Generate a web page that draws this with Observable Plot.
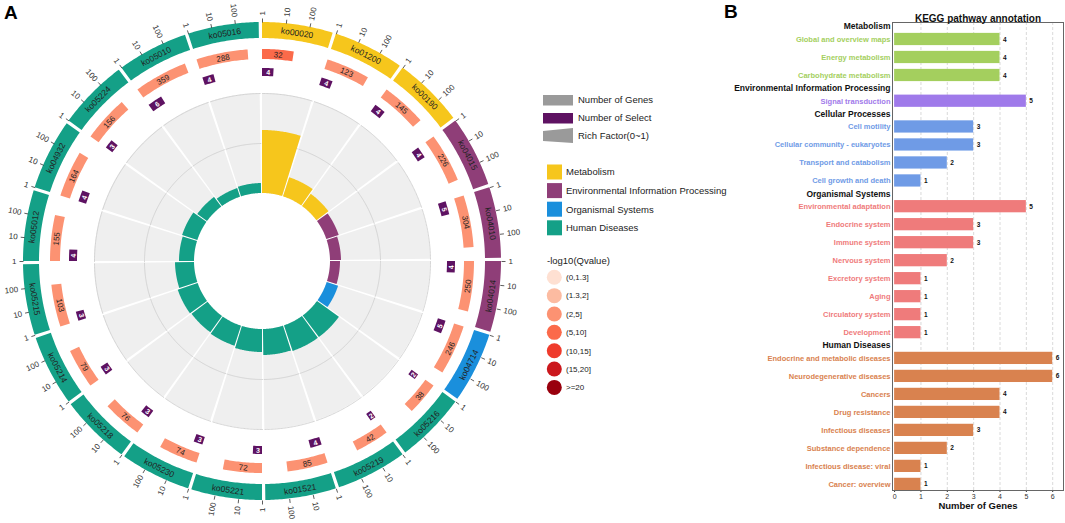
<!DOCTYPE html>
<html>
<head>
<meta charset="utf-8">
<script src="https://cdn.jsdelivr.net/npm/d3@7"></script>
<script src="https://cdn.jsdelivr.net/npm/@observablehq/plot@0.6"></script>
<style>
html,body{margin:0;padding:0;background:#fff;}
body{width:1065px;height:523px;position:relative;overflow:hidden;font-family:"Liberation Sans",Arial,Helvetica,sans-serif;}
#panelA{position:absolute;left:0;top:0;}
#panelB{position:absolute;left:730px;top:0;}
#legend{position:absolute;left:535px;top:85px;}
.tag{position:absolute;font-weight:bold;font-size:19px;line-height:1;color:#000;}
</style>
</head>
<body>
<div id="panelA"></div>
<div id="panelB"></div>
<div id="legend"></div>
<div class="tag" style="left:4px;top:3px">A</div>
<div class="tag" style="left:724px;top:2px">B</div>
<script>
// ---------------- Panel A data ----------------
const pathways = ["ko00020","ko01200","ko00190","ko04015","ko04010","ko04014","ko04714","ko05216","ko05219","ko01521","ko05221","ko05230","ko05218","ko05214","ko05215","ko05012","ko04932","ko05224","ko05010","ko05016"];
const pathwayClass = ["Metabolism","Metabolism","Metabolism",
  "Environmental Information Processing","Environmental Information Processing","Environmental Information Processing",
  "Organismal Systems",
  "Human Diseases","Human Diseases","Human Diseases","Human Diseases","Human Diseases","Human Diseases","Human Diseases",
  "Human Diseases","Human Diseases","Human Diseases","Human Diseases","Human Diseases","Human Diseases"];
const geneCounts = [32,123,145,226,304,250,246,38,42,85,72,74,76,79,103,155,164,156,359,288];
const selectCounts = [4,4,4,4,5,4,5,2,2,4,3,3,3,3,3,4,4,3,6,4];
const richFactor = [0.63,0.20,0.15,0.13,0.11,0.10,0.12,0.27,0.27,0.26,0.23,0.21,0.20,0.21,0.19,0.15,0.16,0.12,0.09,0.10];
const qClass = ["(5,10]","(2,5]","(2,5]","(2,5]","(2,5]","(2,5]","(2,5]","(2,5]","(2,5]","(2,5]","(2,5]","(2,5]","(2,5]","(2,5]","(2,5]","(2,5]","(2,5]","(2,5]","(2,5]","(2,5]"];
const classNames = ["Metabolism","Environmental Information Processing","Organismal Systems","Human Diseases"];
const classColors = ["#f6c61c","#8f3e78","#1a8fdc","#14a087"];
const qBins = ["(0,1.3]","(1.3,2]","(2,5]","(5,10]","(10,15]","(15,20]",">=20"];
const qColors = ["#fee0d2","#fcbba1","#fc9272","#fb6a4a","#ef3b2c","#cb181d","#99000d"];
const axisTicks = [1,10,100];
const legendTracks = ["Number of Genes","Number of Select","Rich Factor(0~1)"];

// ---------------- Panel B data ----------------
const annoGroups = ["Metabolism","Environmental Information Processing","Cellular Processes","Organismal Systems","Human Diseases"];
const annoGroupColors = ["#a4cf5e","#9f7aea","#6f9be6","#ef7b7b","#d9824f"];
const annoTerms = ["Global and overview maps","Energy metabolism","Carbohydrate metabolism",
  "Signal transduction",
  "Cell motility","Cellular community - eukaryotes","Transport and catabolism","Cell growth and death",
  "Environmental adaptation","Endocrine system","Immune system","Nervous system","Excretory system","Aging","Circulatory system","Development",
  "Endocrine and metabolic diseases","Neurodegenerative diseases","Cancers","Drug resistance","Infectious diseases","Substance dependence","Infectious disease: viral","Cancer: overview"];
const annoTermGroup = ["Metabolism","Metabolism","Metabolism",
  "Environmental Information Processing",
  "Cellular Processes","Cellular Processes","Cellular Processes","Cellular Processes",
  "Organismal Systems","Organismal Systems","Organismal Systems","Organismal Systems","Organismal Systems","Organismal Systems","Organismal Systems","Organismal Systems",
  "Human Diseases","Human Diseases","Human Diseases","Human Diseases","Human Diseases","Human Diseases","Human Diseases","Human Diseases"];
const annoCounts = [4,4,4,5,3,3,2,1,5,3,3,2,1,1,1,1,6,6,4,4,3,2,1,1];
const annoTitle = "KEGG pathway annotation";
const annoXLabel = "Number of Genes";

const FONT = "Liberation Sans, Arial, Helvetica, sans-serif";

// ---------------- Panel A: circular plot ----------------
const W = 530, H = 523, CX = 262, CY = 261;
const GAP = 0.8, STEP = 360 / pathways.length, SPAN = STEP - GAP;
const sectorScale = d3.scaleLog().domain([1, 1000]).range([0, SPAN]);
const rfScale = d3.scaleLinear().domain([0, 1]).range([68, 168]);
const R = {out0: 223, out1: 239, gene0: 202, gene1: 212, sel0: 185, sel1: 193, rf0: 68, rf1: 168, tick1: 243, tickLab: 246};
const rad = a => a * Math.PI / 180;
const px = (r, a) => r * Math.sin(rad(a));
const py = (r, a) => -r * Math.cos(rad(a));
const classColor = c => classColors[classNames.indexOf(c)];
const qColor = q => qColors[qBins.indexOf(q)];
const tangentRot = a => (a > 90 && a < 270) ? a - 180 : a;

const rows = pathways.map((id, i) => ({
  id, i, cls: pathwayClass[i], genes: geneCounts[i], sel: selectCounts[i], rf: richFactor[i], q: qClass[i],
  a0: STEP * i, a1: STEP * i + SPAN
}));
const ang = (d, v) => d.a0 + sectorScale(v);

function wedge(key, a0, a1, r0, r1, fill) {
  const n = Math.max(2, Math.ceil((a1 - a0) / 0.5));
  return d3.range(n + 1).map(k => {
    const a = a0 + (a1 - a0) * k / n;
    return {key, fill, x1: px(r0, a), y1: py(r0, a), x2: px(r1, a), y2: py(r1, a)};
  });
}
function arcLine(key, a0, a1, r) {
  const n = Math.max(2, Math.ceil((a1 - a0) / 0.5));
  return d3.range(n + 1).map(k => {
    const a = a0 + (a1 - a0) * k / n;
    return {key, x: px(r, a), y: py(r, a)};
  });
}
const areaOpts = {x1: "x1", y1: "y1", x2: "x2", y2: "y2", z: "key", fill: "fill", curve: "linear"};

const bgData = rows.flatMap(d => wedge(d.id + "bg", d.a0, d.a1, R.rf0, R.rf1, "#efefef"));
const gridData = rows.flatMap(d => [0.5, 1].flatMap(t => arcLine(d.id + "g" + t, d.a0, d.a1, rfScale(t))));
const rfData = rows.flatMap(d => wedge(d.id + "rf", d.a0, d.a1, R.rf0, rfScale(d.rf), classColor(d.cls)));
const selData = rows.flatMap(d => wedge(d.id + "sel", d.a0, ang(d, d.sel), R.sel0, R.sel1, "#5e1262"));
const geneData = rows.flatMap(d => wedge(d.id + "gene", d.a0, ang(d, d.genes), R.gene0, R.gene1, qColor(d.q)));
const ringData = rows.flatMap(d => wedge(d.id + "ring", d.a0, d.a1, R.out0, R.out1, classColor(d.cls)));
const tickData = rows.flatMap(d => axisTicks.map(v => ({v, a: ang(d, v)})));

const mid = d => (d.a0 + d.a1) / 2;
const geneMid = d => (d.a0 + ang(d, d.genes)) / 2;
const selMid = d => (d.a0 + ang(d, d.sel)) / 2;

const plotA = Plot.plot({
  width: W, height: H, margin: 0,
  x: {domain: [-CX, W - CX], range: [0, W], axis: null},
  y: {domain: [-CY, H - CY], range: [0, H], axis: null},
  color: {type: "identity"},
  style: {fontFamily: FONT, background: "transparent", overflow: "visible"},
  marks: [
    Plot.area(bgData, areaOpts),
    Plot.line(gridData, {x: "x", y: "y", z: "key", stroke: "#d0d0d0", strokeWidth: 0.9}),
    Plot.area(rfData, areaOpts),
    Plot.area(selData, areaOpts),
    Plot.area(geneData, areaOpts),
    Plot.area(ringData, areaOpts),
    Plot.link(tickData, {x1: d => px(R.out1, d.a), y1: d => py(R.out1, d.a), x2: d => px(R.tick1, d.a), y2: d => py(R.tick1, d.a), stroke: "#333", strokeWidth: 0.8}),
    Plot.text(tickData.filter(d => d.a < 180), {x: d => px(R.tickLab, d.a), y: d => py(R.tickLab, d.a), text: d => String(d.v), rotate: d => d.a - 90, textAnchor: "start", fontSize: 8, fill: "#333"}),
    Plot.text(tickData.filter(d => d.a >= 180), {x: d => px(R.tickLab, d.a), y: d => py(R.tickLab, d.a), text: d => String(d.v), rotate: d => d.a - 270, textAnchor: "end", fontSize: 8, fill: "#333"}),
    Plot.text(rows, {x: d => px((R.out0 + R.out1) / 2, mid(d)), y: d => py((R.out0 + R.out1) / 2, mid(d)), text: "id", rotate: d => tangentRot(mid(d)), fontSize: 8.5, fill: "#222"}),
    Plot.text(rows, {x: d => px((R.gene0 + R.gene1) / 2, geneMid(d)), y: d => py((R.gene0 + R.gene1) / 2, geneMid(d)), text: d => String(d.genes), rotate: d => tangentRot(geneMid(d)), fontSize: 8, fill: "#222"}),
    Plot.text(rows, {x: d => px((R.sel0 + R.sel1) / 2, selMid(d)), y: d => py((R.sel0 + R.sel1) / 2, selMid(d)), text: d => String(d.sel), rotate: d => tangentRot(selMid(d)), fontSize: 7, fontWeight: "bold", fill: "#fff"})
  ]
});
document.getElementById("panelA").appendChild(plotA);

// ---------------- Legend ----------------
const lg = d3.select("#legend").append("svg").attr("width", 200).attr("height", 320)
  .style("font-family", FONT).style("overflow", "visible");
const trackSw = [
  {type: "rect", fill: "#9a9a9a"},
  {type: "rect", fill: "#5e1262"},
  {type: "trap", fill: "#9a9a9a"}
];
legendTracks.forEach((t, k) => {
  const cy = 15 + k * 18;
  if (trackSw[k].type === "rect") {
    lg.append("rect").attr("x", 8).attr("y", cy - 5).attr("width", 30).attr("height", 10.5).attr("fill", trackSw[k].fill);
  } else {
    lg.append("polygon").attr("points", `8,${cy - 5} 38,${cy - 8} 38,${cy + 7} 8,${cy + 5}`).attr("fill", trackSw[k].fill);
  }
  lg.append("text").attr("x", 43).attr("y", cy).attr("dy", "0.35em").attr("font-size", 9.5).attr("fill", "#222").text(t);
});
classNames.forEach((c, k) => {
  const cy = 87 + k * 18.6;
  lg.append("rect").attr("x", 12).attr("y", cy - 7.5).attr("width", 15).attr("height", 15).attr("fill", classColors[k]);
  lg.append("text").attr("x", 31).attr("y", cy).attr("dy", "0.35em").attr("font-size", 9.5).attr("fill", "#222").text(c);
});
lg.append("text").attr("x", 12).attr("y", 176).attr("dy", "0.35em").attr("font-size", 9.5).attr("fill", "#222").text("-log10(Qvalue)");
qBins.forEach((q, k) => {
  const cy = 192.3 + k * 18.35;
  lg.append("circle").attr("cx", 19.3).attr("cy", cy).attr("r", 7.5).attr("fill", qColors[k]);
  lg.append("text").attr("x", 31).attr("y", cy).attr("dy", "0.35em").attr("font-size", 8).attr("fill", "#222").text(q);
});

// ---------------- Panel B: bar chart ----------------
const HEADER_EXTRA = 0.43;
const groupIdx = annoTermGroup.map(g => annoGroups.indexOf(g));
const termRows = annoTerms.map((t, k) => ({
  term: t, group: annoTermGroup[k], count: annoCounts[k],
  slot: k + HEADER_EXTRA * groupIdx[k],
  color: annoGroupColors[groupIdx[k]]
}));
const headerRows = annoGroups.map(g => {
  const first = termRows.find(r => r.group === g);
  return {group: g, slot: first.slot - 0.5 - HEADER_EXTRA / 2};
});

const plotB = Plot.plot({
  width: 335, height: 523,
  marginLeft: 162, marginRight: 2, marginTop: 22, marginBottom: 33,
  x: {domain: [-0.08, 6.41], ticks: 7, tickFormat: "d", tickSize: 2, tickPadding: 2, label: null},
  y: {domain: [-0.944, 25.06], reverse: true, axis: null},
  color: {type: "identity"},
  style: {fontFamily: FONT, fontSize: "7px", color: "#333", background: "transparent", overflow: "visible"},
  marks: [
    Plot.ruleX([1, 2, 3, 4, 5, 6], {stroke: "#d0d0d0", strokeDasharray: "3,2", strokeWidth: 0.8}),
    Plot.rectX(termRows, {x1: d => 0, x2: "count", y1: d => d.slot - 0.34, y2: d => d.slot + 0.34, fill: "color"}),
    Plot.text(termRows, {x: "count", y: "slot", text: d => String(d.count), dx: 3, textAnchor: "start", fontSize: 6.5, fontWeight: "bold", fill: "#111"}),
    Plot.text(termRows, {y: "slot", frameAnchor: "left", dx: -2, textAnchor: "end", text: "term", fill: "color", fontSize: 7.5, fontWeight: "bold"}),
    Plot.text(headerRows, {y: "slot", frameAnchor: "left", dx: -2, textAnchor: "end", text: "group", fill: "#111", fontSize: 8.5, fontWeight: "bold"}),
    Plot.frame({stroke: "#666", strokeWidth: 1}),
    Plot.text([annoTitle], {frameAnchor: "top", dy: -8, text: d => d, fontSize: 10, fontWeight: "bold", fill: "#111"}),
    Plot.text([annoXLabel], {frameAnchor: "bottom", dy: 18, text: d => d, fontSize: 9.5, fontWeight: "bold", fill: "#111"})
  ]
});
document.getElementById("panelB").appendChild(plotB);
</script>
</body>
</html>
